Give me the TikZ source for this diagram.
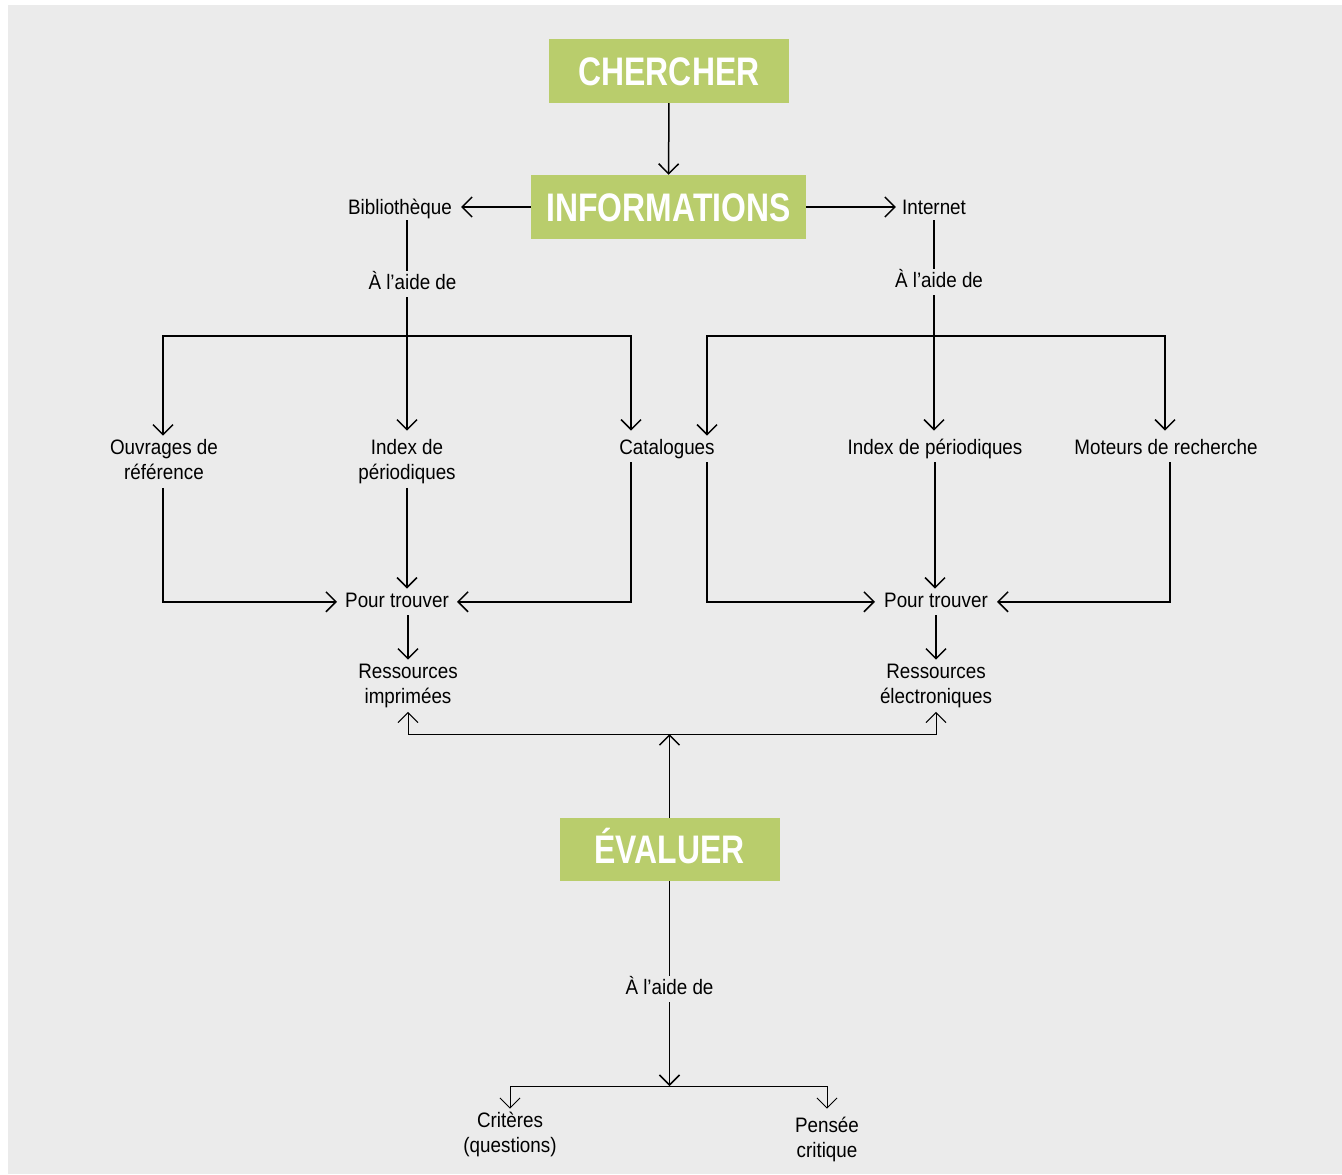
\documentclass[tikz,border=0pt]{standalone}
\usepackage{fontspec}
\setmainfont{Liberation Sans}[FakeStretch=0.9]
\newfontfamily\headfont{Liberation Sans}[FakeStretch=0.8]
\usetikzlibrary{arrows.meta}
\definecolor{panel}{RGB}{235,235,235}
\definecolor{leaf}{RGB}{185,205,108}
% two centred lines whose baseline is the first line
\newcommand{\duo}[2]{\begin{tabular}[t]{@{}c@{}}#1\\#2\end{tabular}}

\begin{document}
\begin{tikzpicture}[x=1bp,y=-1bp,
  barb/.tip={Straight Barb[length=10bp,width=20bp]},
  arr/.style={line width=1.5bp,-{barb}},
  both/.style={line width=1.5bp,{barb}-{barb},shorten <=5bp,shorten >=5bp},
  thinarr/.style={line width=1bp,-{barb}},
  head/.style={fill=leaf,text=white,inner sep=0pt,
    font=\headfont\bfseries\fontsize{40}{40}\selectfont,
    text height=28.6bp,text depth=0pt},
  lbl/.style={anchor=base,inner xsep=4bp,inner ysep=0pt,
    font=\fontsize{21}{26}\selectfont},
  one/.style={lbl,text height=18.2bp,text depth=7.8bp},
  via/.style={one,fill=panel,inner xsep=1bp}]

\useasboundingbox (0,0) rectangle (1342,1174);
\fill[white] (0,0) rectangle (1342,1174);
\fill[panel] (8,5) rectangle (1342,1174);

% main steps
\node[head,minimum width=240bp,minimum height=64bp] (cher) at (669,71) {CHERCHER};
\node[head,minimum width=275bp,minimum height=64bp] (info) at (668.5,207) {INFORMATIONS};
\node[head,minimum width=220bp,minimum height=63bp] (eval) at (669.5,849.5) {ÉVALUER};

% sources
\node[one,inner xsep=9bp] (bib) at (400,214) {Bibliothèque};
\node[one,inner xsep=6bp] (inet) at (934,214) {Internet};

% tools
\node[lbl] (ouv) at (164,454) {\duo{Ouvrages de}{référence}};
\node[lbl] (idx1) at (407,454) {\duo{Index de}{périodiques}};
\node[one] (cat) at (667,454) {Catalogues};
\node[one] (idx2) at (935,454) {Index de périodiques};
\node[one] (mot) at (1166,454) {Moteurs de recherche};

\node[one,inner xsep=8bp] (pt1) at (397,607) {Pour trouver};
\node[one,inner xsep=9bp] (pt2) at (936,607) {Pour trouver};
\node[lbl] (res1) at (408,678) {\duo{Ressources}{imprimées}};
\node[lbl] (res2) at (936,678) {\duo{Ressources}{électroniques}};

\node[lbl] (crit) at (510,1127) {\duo{Critères}{(questions)}};
\node[lbl] (pens) at (827,1132) {\duo{Pensée}{critique}};

% branching points
\coordinate (lb1) at (163,336);
\coordinate (lb2) at (631,336);
\coordinate (rb1) at (707,336);
\coordinate (rb2) at (1165,336);
\coordinate (hubT) at (669.5,734);
\coordinate (hubB) at (669.5,1086);

% connectors
\draw[arr] (cher) -- (info);
\draw[arr] (info.west) -- (info.west -| bib.east);
\draw[arr] (info.east) -- (info.east -| inet.west);

\draw[arr,shorten >=5bp] ([yshift=2bp]bib.south -| idx1.north) -- (idx1.north);
\draw[both,shorten <=0pt] (lb1 |- ouv.north) -- (lb1) -- (lb2) -- (lb2 |- cat.north);
\draw[arr,shorten >=5bp] ([yshift=2bp]inet.south) -- (inet.south |- idx2.north);
\draw[both,shorten <=0pt] (rb1 |- cat.north) -- (rb1) -- (rb2) -- (rb2 |- mot.north);

\draw[arr] (ouv.south -| lb1) |- (pt1.west);
\draw[arr] (idx1.south) -- (idx1.south |- pt1.north);
\draw[arr] (cat.south -| lb2) |- (pt1.east);
\draw[arr] (res1.north |- pt1.south) -- (res1.north);

\draw[arr] (cat.south -| rb1) |- (pt2.west);
\draw[arr] (idx2.south) -- (idx2.south |- pt2.north);
\draw[arr] ([xshift=4bp]mot.south) |- (pt2.east);
\draw[arr] (pt2.south) -- (res2.north);

\draw[arr] (eval.north) -- (hubT);
\draw[thinarr] (hubT) -| (res1.south);
\draw[thinarr] (hubT) -| (res2.south);
\draw[arr] (eval.south) -- (hubB);
\draw[thinarr] (hubB) -| (crit.north);
\draw[thinarr] (hubB) -| ([yshift=5bp]pens.north);

% labels set over the lines they interrupt
\node[via] (aide1) at (412.5,289) {À l’aide de};
\node[via] (aide2) at (939,287) {À l’aide de};
\node[via] (aide3) at (669.5,994) {À l’aide de};
\end{tikzpicture}
\end{document}
